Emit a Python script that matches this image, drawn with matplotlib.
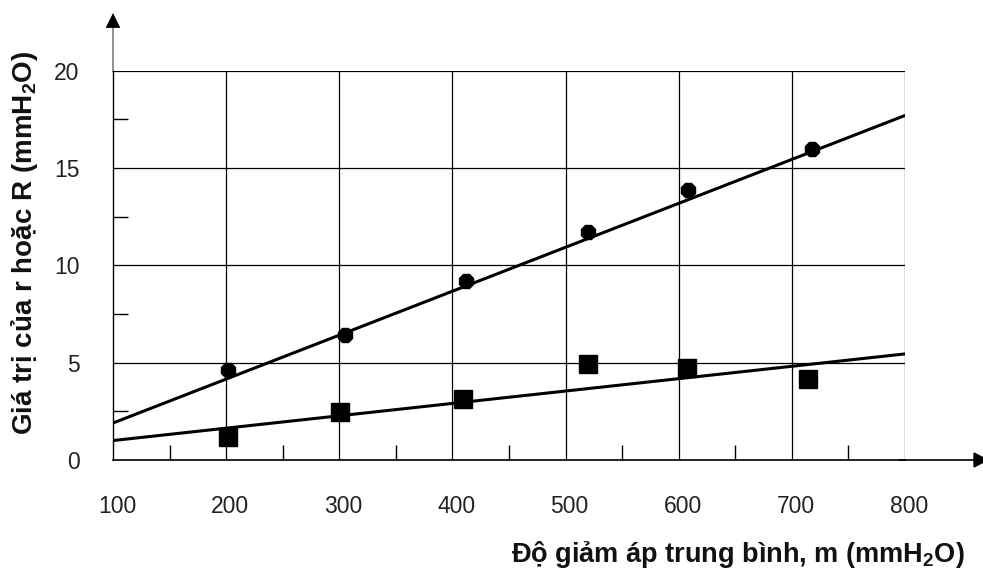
import matplotlib
matplotlib.use("Agg")
import matplotlib.pyplot as plt
import matplotlib.transforms as mtransforms
import numpy as np

plt.rcParams['font.family'] = ['Liberation Sans', 'DejaVu Sans']
plt.rcParams['mathtext.fontset'] = 'custom'
plt.rcParams['mathtext.rm'] = 'Liberation Sans'
plt.rcParams['mathtext.bf'] = 'Liberation Sans:bold'

# data
x_r = [202, 305, 412, 520, 608, 718]
y_r = [4.6, 6.4, 9.2, 11.7, 13.85, 16.0]
x_R = [202, 301, 409, 520, 607, 714]
y_R = [1.2, 2.45, 3.15, 4.95, 4.72, 4.15]

# fitted lines
fit_x = [100, 800]
fit_r = [1.9, 17.7]
fit_R = [1.0, 5.45]

x_ticks = [100, 200, 300, 400, 500, 600, 700, 800]
y_ticks = [0, 5, 10, 15, 20]

fig = plt.figure(figsize=(9.83, 5.82), dpi=100)
ax = fig.add_axes([113/983, 1-460/582, (905-113)/983, (460-70.7)/582])

ax.set_xlim(100, 800)
ax.set_ylim(0, 20)

# grid
for xv in x_ticks[1:]:
	ax.axvline(xv, color='black', lw=0.9, zorder=1)
for yv in y_ticks[1:]:
	ax.axhline(yv, color='black', lw=0.9, zorder=1)

ax.plot(fit_x, fit_r, color='black', lw=2.2, zorder=3)
ax.plot(fit_x, fit_R, color='black', lw=2.2, zorder=3)
ax.plot(x_r, y_r, ls='none', marker='8', ms=11, color='black', zorder=4)
ax.plot(x_R, y_R, ls='none', marker='s', ms=12.5, color='black', zorder=4)

for s in ['top', 'right']:
	ax.spines[s].set_visible(False)
ax.spines['left'].set_linewidth(1.0)
ax.spines['bottom'].set_linewidth(1.2)

ax.set_xticks(x_ticks)
ax.set_yticks(y_ticks)
ax.set_xticks(np.arange(150, 800, 100), minor=True)
ax.set_yticks(np.arange(2.5, 20, 5), minor=True)
ax.tick_params(axis='both', which='major', length=0, labelsize=16.5, colors='#222222')
ax.tick_params(axis='x', which='major', pad=25)
ax.tick_params(axis='y', which='major', pad=24)
ax.tick_params(axis='both', which='minor', direction='in', length=11, width=1.0)

# x tick labels sit a little right of the grid lines in the original
shift = mtransforms.ScaledTranslation(4/100, 0, fig.dpi_scale_trans)
for lbl in ax.get_xticklabels():
	lbl.set_transform(lbl.get_transform() + shift)

# axis arrows
ax.annotate('', xy=(0, 1.155), xytext=(0, 0.99), xycoords='axes fraction',
			arrowprops=dict(arrowstyle='-|>', color='black', lw=0.6, mutation_scale=24))
ax.annotate('', xy=(1.11, 0), xytext=(0.99, 0), xycoords='axes fraction',
			arrowprops=dict(arrowstyle='-|>', color='black', lw=1.2, mutation_scale=24))

fig.text(25/983, 1-243/582, r'Giá trị của r hoặc R (mmH$_\mathbf{2}$O)', rotation=90,
		 ha='center', va='center', fontsize=20, fontweight='bold', color='#111111')
fig.text(965/983, 1-555/582, r'Độ giảm áp trung bình, m (mmH$_\mathbf{2}$O)',
		 ha='right', va='center', fontsize=19.5, fontweight='bold', color='#111111')

fig.savefig('out.png', dpi=100)
